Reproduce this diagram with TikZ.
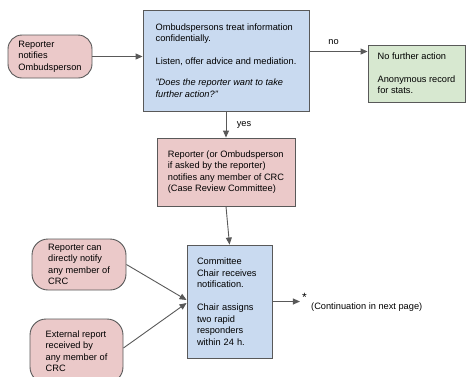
\documentclass[tikz,border=0pt]{standalone}
\usepackage{fontspec}
\setmainfont{Liberation Sans}
\usetikzlibrary{arrows.meta, positioning}
\definecolor{BoxPink}{HTML}{EBC9C9}
\definecolor{BoxBlue}{HTML}{C9DAF0}
\definecolor{BoxGreen}{HTML}{D7E8D0}
\definecolor{EdgeGray}{HTML}{595959}

\begin{document}
\begin{tikzpicture}[x=1pt, y=-1pt,
    every node/.style={font=\fontsize{9.25}{11.5}\selectfont},
    box/.style={draw=EdgeGray, line width=0.9pt, align=left, inner sep=0pt},
    pinkround/.style={box, fill=BoxPink, rounded corners=14pt},
    pinkbox/.style={box, fill=BoxPink},
    bluebox/.style={box, fill=BoxBlue},
    greenbox/.style={box, fill=BoxGreen},
    flow/.style={-{Triangle[length=7pt, width=6pt]}, line width=0.9pt, EdgeGray},
    flowlabel/.style={text=black}]
  \useasboundingbox (0,0) rectangle (466,376);
  % first contact
  \node[pinkround, minimum width=84pt, minimum height=43pt] (reporter) at (50,56.5) {Reporter\\notifies\\Ombudsperson};
  \node[bluebox, minimum width=166pt, minimum height=101pt] (ombud) at (226,60.5) {Ombudspersons treat information\\confidentially.\\[11.5pt]Listen, offer advice and mediation.\\[9.5pt]\textit{"Does the reporter want to take}\\\textit{further action?"}};
  \node[greenbox, minimum width=97pt, minimum height=57pt] (nofurther) at (416.5,73.5) {No further action\\[11pt]Anonymous record\\for stats.};
  \node[pinkbox, minimum width=138pt, minimum height=68pt] (crc) at (226,172) {Reporter (or Ombudsperson\\if asked by the reporter)\\notifies any member of CRC\\(Case Review Committee)};
  % committee
  \node[bluebox, text width=65pt, inner xsep=10pt, minimum height=113pt] (chair) at (229.5,301.5) {Committee\\Chair receives\\notification.\\[11.5pt]Chair assigns\\two rapid\\responders\\within 24 h.};
  \node[pinkround, minimum width=94pt, minimum height=51pt, rounded corners=16pt] (direct) at (79,264.5) {Reporter can\\directly notify\\any member of\\CRC};
  \node[pinkround, minimum width=93pt, minimum height=64pt, rounded corners=16pt] (external) at (76.5,351) {External report\\received by\\any member of\\CRC};
  \node[inner sep=0pt, font=\fontsize{12}{12}\selectfont] (star) at (304.5,297) {*};
  \node[anchor=west, inner sep=0pt] (cont) at (311,307) {(Continuation in next page)};
  % connectors
  \draw[flow] (reporter.east) -- (reporter.east -| ombud.west);
  \draw[flow] ([yshift=9pt]ombud.east) -- node[flowlabel, above=3pt, xshift=-5pt] {no} ([yshift=9pt]ombud.east -| nofurther.west);
  \draw[flow] (ombud.south) -- node[flowlabel, right=7pt] {yes} (crc.north);
  \draw[flow] (crc.south) -- (chair.north);
  \draw[flow] (direct.east) -- ([yshift=1.5pt]chair.west);
  \draw[flow] ([yshift=3pt]external.east) -- ([yshift=-1.5pt]chair.west);
  \draw[flow] (chair.east) -- ([xshift=-2pt]chair.east -| star.west);
\end{tikzpicture}
\end{document}
